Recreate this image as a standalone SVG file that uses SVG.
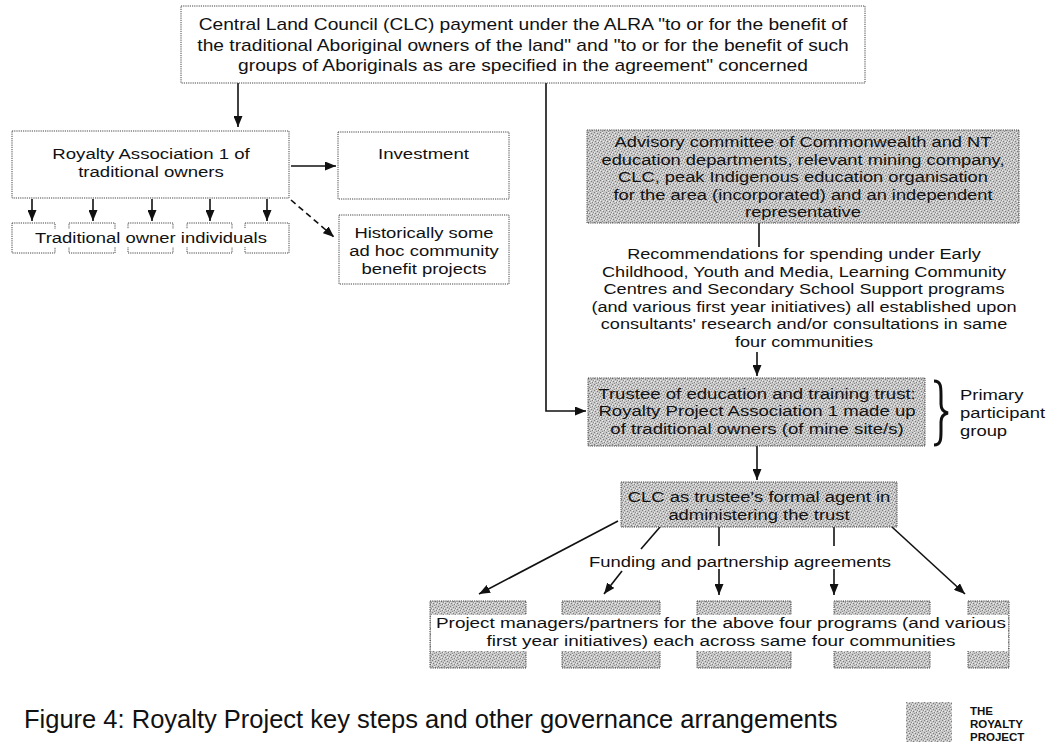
<svg xmlns="http://www.w3.org/2000/svg" width="1046" height="747" viewBox="0 0 1046 747">
<defs>
  <pattern id="dither" width="6" height="6" patternUnits="userSpaceOnUse">
    <rect width="6" height="6" fill="#c6c6c6"/>
    <rect x="0" y="0" width="1" height="1" fill="#7c7c7c"/>
    <rect x="3" y="1" width="1" height="1" fill="#7c7c7c"/>
    <rect x="1" y="3" width="1" height="1" fill="#7c7c7c"/>
    <rect x="4" y="4" width="1" height="1" fill="#7c7c7c"/>
    <rect x="5" y="2" width="1" height="1" fill="#8e8e8e"/>
    <rect x="2" y="5" width="1" height="1" fill="#8e8e8e"/>
    <rect x="2" y="0" width="1" height="1" fill="#efefef"/>
    <rect x="5" y="4" width="1" height="1" fill="#efefef"/>
    <rect x="0" y="2" width="1" height="1" fill="#efefef"/>
    <rect x="3" y="3" width="1" height="1" fill="#efefef"/>
  </pattern>
  <marker id="ah" markerWidth="11" markerHeight="9" refX="11" refY="4.5" orient="auto" markerUnits="userSpaceOnUse">
    <path d="M0,0 L11,4.5 L0,9 z" fill="#111"/>
  </marker>
</defs>
<style>
  .box { fill: #ffffff; stroke: #444444; stroke-width: 1; stroke-dasharray: 1.2 1; }
  .shade { fill: url(#dither); stroke: #444444; stroke-width: 1; stroke-dasharray: 1.2 1; }
  .band { fill: #ffffff; stroke: none; }
  .t { font-family: "Liberation Sans", Arial, sans-serif; font-size: 15.5px; fill: #111111; text-anchor: middle; }
  .ts { font-family: "Liberation Sans", Arial, sans-serif; font-size: 15.5px; fill: #111111; text-anchor: start; }
  .c { stroke: #111111; stroke-width: 1.6; fill: none; }
  .arr { marker-end: url(#ah); }
  .dash { stroke-dasharray: 6 4; }
  .legend { font-family: "Liberation Sans", Arial, sans-serif; font-size: 11.5px; font-weight: bold; fill: #111111; }
  .caption { font-family: "Liberation Sans", Arial, sans-serif; font-size: 25.5px; fill: #111111; }
</style>

<g id="connectors">
  <path class="c arr" d="M238,83 V127"/>
  <path class="c arr" d="M546,83 V411 H586"/>
  <path class="c arr" d="M291,166 H336"/>
  <path class="c arr" d="M32,199 V221"/>
  <path class="c arr" d="M93,199 V221"/>
  <path class="c arr" d="M152,199 V221"/>
  <path class="c arr" d="M210,199 V221"/>
  <path class="c arr" d="M267,199 V221"/>
  <path class="c arr dash" d="M291,200 L334,237"/>
  <path class="c" d="M759,223 V247"/>
  <path class="c arr" d="M757,352 V376"/>
  <path class="c arr" d="M757,446 V480"/>
  <path class="c arr" d="M618,521 L479,594"/>
  <path class="c" d="M660,527 L641,549"/>
  <path class="c arr" d="M622,571 L604,594"/>
  <path class="c" d="M719,527 V546"/>
  <path class="c arr" d="M719,569 V595"/>
  <path class="c" d="M834,527 V546"/>
  <path class="c arr" d="M834,569 V595"/>
  <path class="c arr" d="M892,527 L965,594"/>
  <g transform="matrix(1.19 0 0 1 740 0)">
    <text class="t" x="0" y="567.5">Funding and partnership agreements</text>
  </g>
</g>

<g id="clc-payment">
  <rect class="box" x="181" y="6" width="684" height="77"/>
  <g transform="matrix(1.2 0 0 1 523 0)">
    <text class="t" x="0" y="30.5" style="font-size:16px">Central Land Council (CLC) payment under the ALRA "to or for the benefit of</text>
    <text class="t" x="0" y="51" style="font-size:16px">the traditional Aboriginal owners of the land" and "to or for the benefit of such</text>
    <text class="t" x="0" y="71.5" style="font-size:16px">groups of Aboriginals as are specified in the agreement" concerned</text>
  </g>
</g>

<g id="royalty-association">
  <rect class="box" x="12" y="131" width="277" height="67"/>
  <g transform="matrix(1.2 0 0 1 151 0)">
    <text class="t" x="0" y="159.5">Royalty Association 1 of</text>
    <text class="t" x="0" y="177">traditional owners</text>
  </g>
</g>

<g id="investment">
  <rect class="box" x="338" y="132" width="171" height="67"/>
  <g transform="matrix(1.2 0 0 1 423.5 0)">
    <text class="t" x="0" y="159.5">Investment</text>
  </g>
</g>

<g id="individuals">
  <rect class="box" x="12" y="223" width="43" height="30"/>
  <rect class="box" x="69" y="223" width="46" height="30"/>
  <rect class="box" x="128" y="223" width="45" height="30"/>
  <rect class="box" x="187" y="223" width="45" height="30"/>
  <rect class="box" x="245" y="223" width="44" height="30"/>
  <rect class="band" x="13" y="229" width="275" height="18"/>
  <g transform="matrix(1.19 0 0 1 151 0)">
    <text class="t" x="0" y="243">Traditional owner individuals</text>
  </g>
</g>

<g id="community-projects">
  <rect class="box" x="339" y="215" width="170" height="69"/>
  <g transform="matrix(1.19 0 0 1 424 0)">
    <text class="t" x="0" y="238.5">Historically some</text>
    <text class="t" x="0" y="256.5">ad hoc community</text>
    <text class="t" x="0" y="274.5">benefit projects</text>
  </g>
</g>

<g id="advisory-committee">
  <rect class="shade" x="587" y="130" width="432" height="93"/>
  <g transform="matrix(1.18 0 0 1 803 0)">
    <text class="t" x="0" y="147.5">Advisory committee of Commonwealth and NT</text>
    <text class="t" x="0" y="165">education departments, relevant mining company,</text>
    <text class="t" x="0" y="182.5">CLC, peak Indigenous education organisation</text>
    <text class="t" x="0" y="200">for the area (incorporated) and an independent</text>
    <text class="t" x="0" y="217.5">representative</text>
  </g>
</g>

<g id="recommendations">
  <g transform="matrix(1.17 0 0 1 804 0)">
    <text class="t" x="0" y="259.5">Recommendations for spending under Early</text>
    <text class="t" x="0" y="277">Childhood, Youth and Media, Learning Community</text>
    <text class="t" x="0" y="294.5">Centres and Secondary School Support programs</text>
    <text class="t" x="0" y="312">(and various first year initiatives) all established upon</text>
    <text class="t" x="0" y="329.5">consultants' research and/or consultations in same</text>
    <text class="t" x="0" y="347">four communities</text>
  </g>
</g>

<g id="trustee">
  <rect class="shade" x="588" y="378" width="337" height="68"/>
  <g transform="matrix(1.2 0 0 1 757 0)">
    <text class="t" x="0" y="399">Trustee of education and training trust:</text>
    <text class="t" x="0" y="416.5">Royalty Project Association 1 made up</text>
    <text class="t" x="0" y="434">of traditional owners (of mine site/s)</text>
  </g>
</g>

<g id="primary-group">
  <path d="M934,381 C941,381 941,387 941,395 L941,404 C941,409 943,412 948,413 C943,414 941,417 941,422 L941,431 C941,439 941,445 934,445" fill="none" stroke="#111111" stroke-width="3"/>
  <g transform="matrix(1.19 0 0 1 960 0)">
    <text class="ts" x="0" y="400.5">Primary</text>
    <text class="ts" x="0" y="418.5">participant</text>
    <text class="ts" x="0" y="436.5">group</text>
  </g>
</g>

<g id="clc-agent">
  <rect class="shade" x="621" y="482" width="276" height="45"/>
  <g transform="matrix(1.19 0 0 1 759 0)">
    <text class="t" x="0" y="502.5">CLC as trustee's formal agent in</text>
    <text class="t" x="0" y="520">administering the trust</text>
  </g>
</g>

<g id="project-managers">
  <rect class="shade" x="430" y="601" width="96" height="67"/>
  <rect class="shade" x="562" y="601" width="98" height="67"/>
  <rect class="shade" x="697" y="601" width="94" height="67"/>
  <rect class="shade" x="834" y="601" width="96" height="67"/>
  <rect class="shade" x="968" y="601" width="41" height="67"/>
  <rect class="band" x="431" y="615" width="577" height="36"/>
  <g transform="matrix(1.22 0 0 1 721 0)">
    <text class="t" x="0" y="628.5">Project managers/partners for the above four programs (and various</text>
    <text class="t" x="0" y="646.5">first year initiatives) each across same four communities</text>
  </g>
</g>

<g id="legend">
  <rect x="906" y="702" width="46" height="40" fill="url(#dither)"/>
  <text class="legend" x="970" y="715">THE</text>
  <text class="legend" x="970" y="728">ROYALTY</text>
  <text class="legend" x="970" y="741">PROJECT</text>
</g>

<text class="caption" x="24" y="728">Figure 4: Royalty Project key steps and other governance arrangements</text>
</svg>
